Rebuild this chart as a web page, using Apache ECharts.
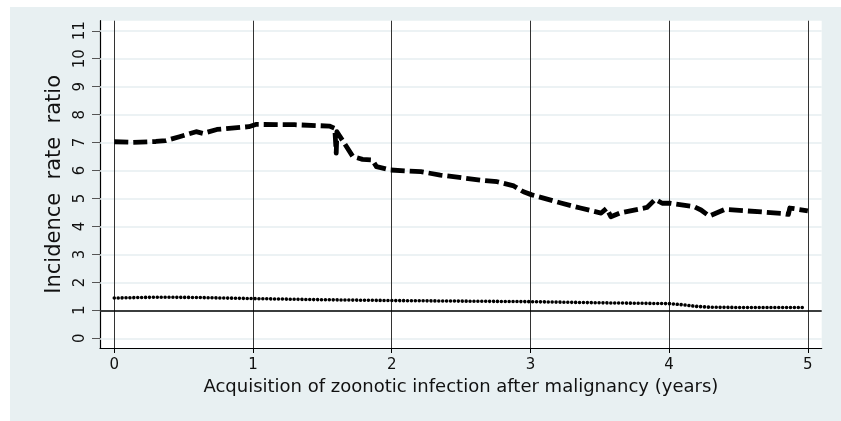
<!DOCTYPE html>
<html>
<head>
<meta charset="utf-8">
<script src="https://cdn.jsdelivr.net/npm/echarts@6/dist/echarts.min.js"></script>
<style>html,body{margin:0;padding:0;background:#fff}#c{width:841px;height:421px}</style>
</head>
<body>
<div id="c"></div>
<script>
// ---- data ----
const xTicks = [0, 1, 2, 3, 4, 5];
const yTicks = [0, 1, 2, 3, 4, 5, 6, 7, 8, 9, 10, 11];
const refLine = 1;

const dashedX = [0, 0.13, 0.3, 0.37, 0.47, 0.59, 0.64, 0.74, 0.97, 1.02, 1.3, 1.55, 1.59, 1.60, 1.605, 1.72, 1.79, 1.86, 1.89, 1.99, 2.21, 2.35, 2.64, 2.76, 2.88, 2.95, 3.01, 3.22, 3.36, 3.51, 3.55, 3.58, 3.65, 3.84, 3.9, 3.95, 4.01, 4.18, 4.23, 4.29, 4.4, 4.81, 4.86, 4.87, 5.0];
const dashedY = [7.03, 7.01, 7.04, 7.07, 7.21, 7.39, 7.33, 7.47, 7.57, 7.65, 7.64, 7.59, 7.51, 6.62, 7.39, 6.5, 6.4, 6.38, 6.14, 6.02, 5.96, 5.84, 5.66, 5.6, 5.45, 5.24, 5.13, 4.84, 4.66, 4.48, 4.65, 4.35, 4.49, 4.68, 4.97, 4.83, 4.83, 4.71, 4.59, 4.37, 4.61, 4.47, 4.43, 4.66, 4.56];

const dottedX = [0, 0.3, 0.6, 1.0, 1.5, 2.0, 2.5, 3.0, 3.5, 4.0, 4.1, 4.2, 4.3, 4.6, 4.97];
const dottedY = [1.44, 1.47, 1.46, 1.42, 1.38, 1.35, 1.33, 1.31, 1.27, 1.24, 1.2, 1.14, 1.11, 1.1, 1.1];

const xTitle = 'Acquisition of zoonotic infection after malignancy (years)';
const yTitle = 'Incidence  rate  ratio';

// ---- chart ----
const zip = (xs, ys) => xs.map((x, i) => [x, ys[i]]);
const font = 'DejaVu Sans, Liberation Sans, sans-serif';
const chart = echarts.init(document.getElementById('c'), null, {renderer: 'canvas'});
chart.setOption({
  animation: false,
  backgroundColor: '#ffffff',
  graphic: [{
    type: 'rect', left: 10, top: 7, z: -10,
    shape: {width: 831, height: 414},
    style: {fill: '#e8f0f2'}
  }],
  grid: {left: 100, right: 19.3, top: 20.7, bottom: 73, show: true, backgroundColor: '#ffffff', borderWidth: 0, containLabel: false},
  xAxis: {
    type: 'value', min: -0.103, max: 5.10,
    axisLine: {show: true, onZero: false, lineStyle: {color: '#000', width: 1.2}},
    axisTick: {show: true, length: 5, customValues: xTicks, lineStyle: {color: '#000'}},
    axisLabel: {customValues: xTicks, margin: 10, color: '#111', fontSize: 15, fontFamily: font},
    splitLine: {show: false},
    name: xTitle, nameLocation: 'middle', nameGap: 30,
    nameTextStyle: {color: '#111', fontSize: 18, fontFamily: font}
  },
  yAxis: {
    type: 'value', min: -0.347, max: 11.36,
    axisLine: {show: true, onZero: false, lineStyle: {color: '#000', width: 1.2}},
    axisTick: {show: true, length: 8, customValues: yTicks, lineStyle: {color: '#555'}},
    axisLabel: {customValues: yTicks, rotate: 90, margin: 12, color: '#111', fontSize: 15, fontFamily: font},
    splitLine: {show: false},
    name: yTitle, nameLocation: 'middle', nameRotate: 90, nameGap: 28,
    nameTextStyle: {color: '#111', fontSize: 21, fontFamily: font}
  },
  series: [
    {
      type: 'line', data: [], z: 1, silent: true,
      markLine: {
        silent: true, symbol: 'none', label: {show: false}, animation: false,
        lineStyle: {color: '#e6eef0', width: 1.5, type: 'solid'},
        data: yTicks.map(v => ({yAxis: v}))
      }
    },
    {
      type: 'line', data: [], z: 2, silent: true,
      markLine: {
        silent: true, symbol: 'none', label: {show: false}, animation: false,
        lineStyle: {color: '#333', width: 1, type: 'solid'},
        data: xTicks.map(v => ({xAxis: v}))
      }
    },
    {
      type: 'line', data: [], z: 3, silent: true,
      markLine: {
        silent: true, symbol: 'none', label: {show: false}, animation: false,
        lineStyle: {color: '#000', width: 1.5, type: 'solid'},
        data: [{yAxis: refLine}]
      }
    },
    {
      type: 'line', z: 5, showSymbol: false, symbol: 'none',
      data: zip(dottedX, dottedY),
      lineStyle: {color: '#000', width: 3.6, type: [0.01, 3.9], cap: 'round', join: 'round'}
    },
    {
      type: 'line', z: 5, showSymbol: false, symbol: 'none',
      data: zip(dashedX, dashedY),
      lineStyle: {color: '#000', width: 4.8, type: [14, 5], cap: 'butt', join: 'round'}
    }
  ]
});
</script>
</body>
</html>
